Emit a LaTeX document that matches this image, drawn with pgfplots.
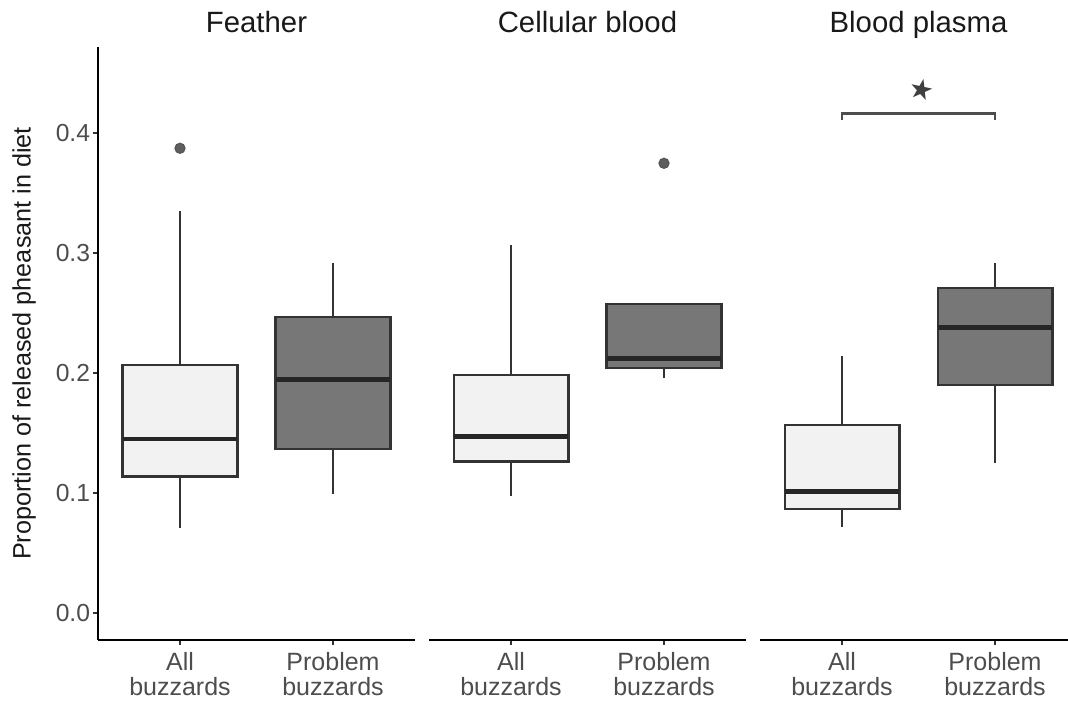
\documentclass[border=0pt]{standalone}
\usepackage{fontspec}
\setmainfont{Liberation Sans}
\newfontfamily\symfont{DejaVu Sans}
\usepackage{pgfplots}
\pgfplotsset{compat=1.18}

\definecolor{lightfill}{HTML}{F2F2F2}
\definecolor{darkfill}{HTML}{777777}
\definecolor{boxline}{HTML}{333333}
\definecolor{medline}{HTML}{262626}
\definecolor{outlier}{HTML}{5E5E5E}
\definecolor{ticktext}{HTML}{4D4D4D}
\definecolor{bracket}{HTML}{4D4D4D}

% One box: #1 left, #2 centre, #3 right, #4 lower whisker, #5 lower quartile,
% #6 median, #7 upper quartile, #8 upper whisker, #9 fill colour
\newcommand{\bx}[9]{%
  \addplot[draw=boxline, line width=1.7pt] coordinates {(#2,#4) (#2,#5)};
  \addplot[draw=boxline, line width=1.7pt] coordinates {(#2,#7) (#2,#8)};
  \addplot[fill=#9, draw=boxline, line width=1.7pt, line join=miter]
    coordinates {(#1,#5) (#3,#5) (#3,#7) (#1,#7)} -- cycle;
  \addplot[draw=medline, line width=3.6pt] coordinates {(#1,#6) (#3,#6)};
}

\pgfplotsset{
  panel/.style={
    scale only axis,
    height=444.75pt,
    ymin=-0.02225, ymax=0.4719,
    xmin=0.464,
    axis x line*=bottom,
    axis line style={-, line width=1.5pt, black},
    tick align=outside,
    major tick length=3.75pt,
    every tick/.style={line width=1.4pt, boxline},
    xtick={1,2},
    xticklabels={All\\buzzards, Problem\\buzzards},
    xticklabel style={align=center, font=\fontsize{18.75}{18.75}\selectfont,
                      text=ticktext, inner sep=2pt, yshift=-3pt},
    /pgf/number format/assume math mode=true,
    /pgf/number format/fixed,
    /pgf/number format/fixed zerofill,
    /pgf/number format/precision=1,
    title style={at={(axis description cs:0.5,1)}, anchor=base, yshift=4.5pt,
                 font=\fontsize{22}{24}\selectfont, text=black!90},
    outl/.style={only marks, mark=*, mark size=3.9pt,
                 mark options={fill=outlier, draw=outlier!85!black, line width=0.6pt}},
    clip=false,
  },
}

\begin{document}
\begin{tikzpicture}
\useasboundingbox (0,0) rectangle (801pt,526.5pt);

% Feather
\begin{axis}[panel, at={(73.5pt,46.5pt)}, anchor=south west,
  width=237.75pt, xmax=2.536,
  axis y line*=left,
  ytick={0,0.1,0.2,0.3,0.4},
  yticklabel style={font=\fontsize{18.5}{20}\selectfont, text=ticktext, inner sep=2pt},
  ylabel={Proportion of released pheasant in diet},
  ylabel style={at={(axis description cs:-0.233,0.5)}, anchor=center,
                font=\fontsize{18.9}{20}\selectfont, text=black!90},
  title={Feather}]
\bx{0.625}{1}{1.375}{0.0708}{0.1139}{0.1453}{0.2069}{0.3355}{lightfill}
\bx{1.625}{2}{2.375}{0.0992}{0.1367}{0.1950}{0.2472}{0.2922}{darkfill}
\addplot[outl] coordinates {(1,0.3875)};
\end{axis}

% Cellular blood
\begin{axis}[panel, at={(321.75pt,46.5pt)}, anchor=south west,
  width=237.75pt, xmax=2.536,
  axis y line=none,
  title={Cellular blood}]
\bx{0.625}{1}{1.375}{0.0978}{0.1264}{0.1472}{0.1986}{0.3069}{lightfill}
\bx{1.625}{2}{2.375}{0.1958}{0.2042}{0.2125}{0.2575}{0.2575}{darkfill}
\addplot[outl] coordinates {(2,0.3750)};
\end{axis}

% Blood plasma
\begin{axis}[panel, at={(570pt,46.5pt)}, anchor=south west,
  width=231pt, xmax=2.477,
  axis y line=none,
  title style={at={(axis description cs:0.5146,1)}},
  title={Blood plasma}]
\bx{0.625}{1}{1.375}{0.0722}{0.0867}{0.1014}{0.1569}{0.2144}{lightfill}
\bx{1.625}{2}{2.375}{0.1250}{0.1903}{0.2380}{0.2708}{0.2917}{darkfill}
% significance bracket
\addplot[draw=bracket, line width=2pt] coordinates {(1,0.4112) (1,0.4167) (2,0.4167) (2,0.4112)};
\addplot[only marks, mark=text, text mark={\symfont ★}, text mark as node=true,
  text mark style={font=\fontsize{21}{21}\selectfont, text=black!75, rotate=-12, inner sep=0pt}]
  coordinates {(1.52,0.4367)};
\end{axis}
\end{tikzpicture}
\end{document}
